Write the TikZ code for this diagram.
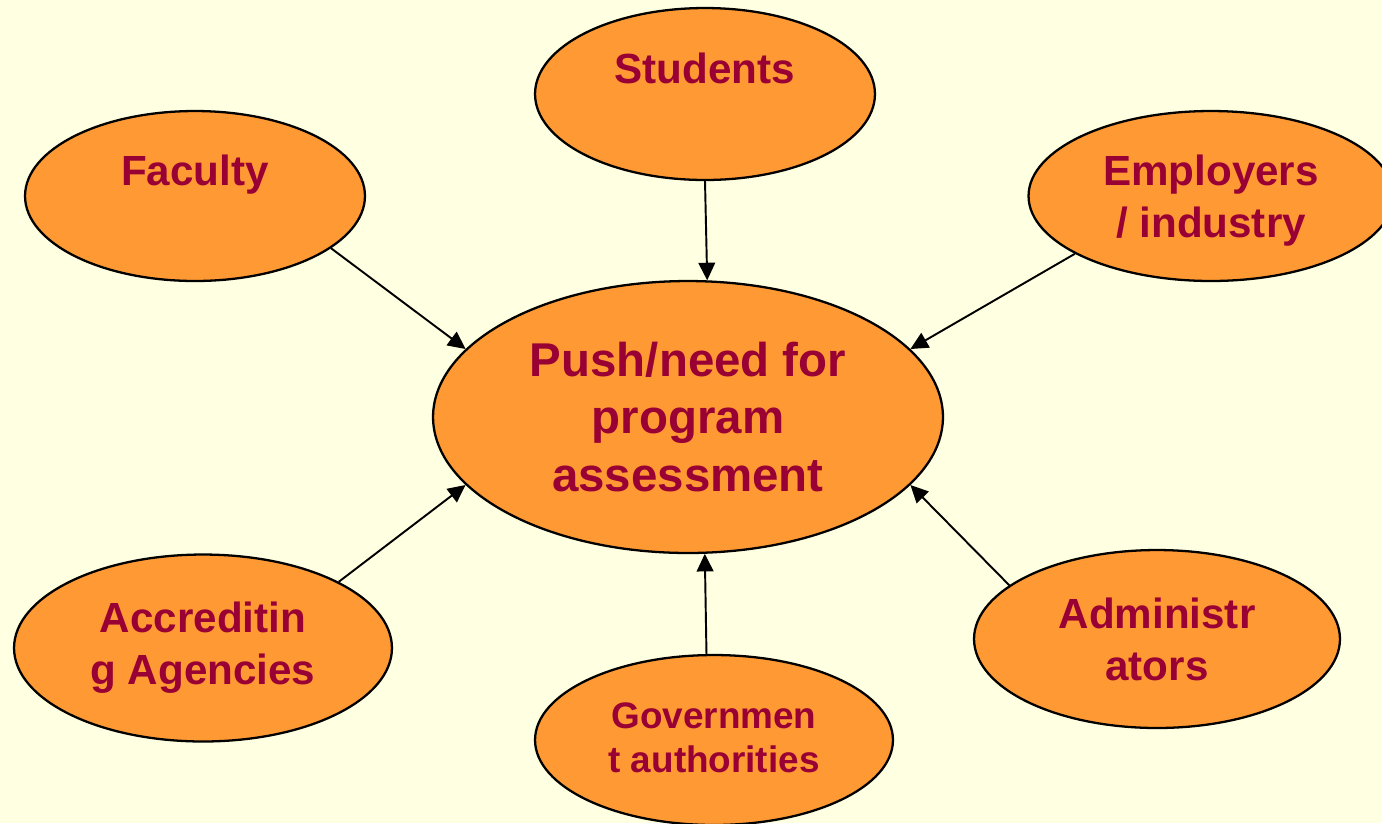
\documentclass[tikz,border=0pt]{standalone}
\usepackage{fontspec}
\setmainfont{Liberation Sans}
\usetikzlibrary{shapes.geometric, arrows.meta}

\definecolor{paper}{RGB}{255,255,225}
\definecolor{blob}{RGB}{255,153,51}
\definecolor{ink}{RGB}{153,0,51}

\begin{document}
\begin{tikzpicture}[x=0.02cm, y=-0.02cm,
    src/.style = {draw, ellipse, fill=blob, line width=1.3pt, inner sep=0pt,
        align=center, text=ink, font=\bfseries\fontsize{24}{29.5}\selectfont},
    push/.style = {-{Triangle[length=10pt, width=9.5pt]}, line width=1.1pt}]
    \fill[paper] (0,0) rectangle (1382,823);
    \useasboundingbox (0,0) rectangle (1382,823);

    \node[src, minimum width=10.2cm, minimum height=5.44cm,
        font=\bfseries\fontsize{27}{32.5}\selectfont] (need) at (688,417)
        {Push/need for\\program\\assessment};

    \node[src, minimum width=6.8cm, minimum height=3.44cm] (stud) at (705,94) {Students\\\mbox{}};
    \node[src, minimum width=6.8cm, minimum height=3.4cm] (fac) at (195,196) {Faculty\\\mbox{}};
    \node[src, minimum width=7.3cm, minimum height=3.4cm, text depth=0pt] (emp) at (1211,196) {Employers\\/ industry};
    \node[src, minimum width=7.56cm, minimum height=3.74cm] (accr) at (203,648) {Accreditin\\g Agencies};
    \node[src, minimum width=7.16cm, minimum height=3.4cm,
        font=\bfseries\fontsize{21}{25}\selectfont] (gov) at (714,740) {\raisebox{3pt}{Governmen}\\\raisebox{3pt}{t authorities}};
    \node[src, minimum width=7.32cm, minimum height=3.56cm] (adm) at (1157,639) {Administr\\ators};

    \draw[push] (stud.south) -- (need.82.5);
    \draw[push] (fac.-21) -- (need.163);
    \draw[push] (emp.203) -- (need.17);
    \draw[push] (accr.26) -- (need.197);
    \draw[push] (gov.95) -- (need.277.5);
    \draw[push] (adm.160) -- (need.343);
\end{tikzpicture}
\end{document}
